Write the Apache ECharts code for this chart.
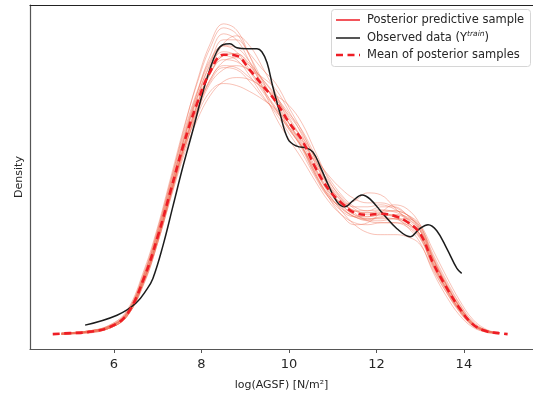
<!DOCTYPE html>
<html>
<head>
<meta charset="utf-8">
<script src="https://cdn.jsdelivr.net/npm/echarts@6/dist/echarts.min.js"></script>
<style>
html,body{margin:0;padding:0;background:#fff;}
#chart{width:533px;height:396px;}
</style>
</head>
<body>
<div id="chart"></div>
<script>
// ---- data ----
var xTicks = [6, 8, 10, 12, 14];

// common x grid of the posterior predictive samples
var sampleX = [4.8, 5.4, 5.9, 6.3, 6.7, 7.0, 7.3, 7.6, 7.9, 8.2, 8.5, 8.8, 9.1, 9.4, 9.7, 10.0, 10.3, 10.6, 10.9, 11.2, 11.5, 11.8, 12.1, 12.4, 12.7, 13.0, 13.3, 13.6, 13.9, 14.2, 14.5, 14.8];

var sample1  = [0.001,0.003,0.009,0.024,0.066,0.108,0.158,0.208,0.252,0.288,0.308,0.302,0.280,0.255,0.232,0.208,0.186,0.160,0.140,0.127,0.118,0.115,0.117,0.116,0.110,0.097,0.068,0.044,0.023,0.009,0.003,0.001];
var sample2  = [0.000,0.002,0.006,0.018,0.054,0.092,0.137,0.180,0.215,0.240,0.254,0.258,0.256,0.248,0.238,0.222,0.205,0.180,0.158,0.140,0.128,0.124,0.125,0.123,0.117,0.104,0.075,0.050,0.028,0.011,0.004,0.001];
var sample3  = [0.000,0.002,0.006,0.018,0.052,0.092,0.140,0.188,0.230,0.266,0.292,0.300,0.290,0.268,0.242,0.212,0.188,0.160,0.138,0.124,0.118,0.118,0.120,0.118,0.112,0.100,0.070,0.046,0.025,0.010,0.003,0.001];
var sample4  = [0.000,0.002,0.007,0.021,0.060,0.101,0.148,0.195,0.236,0.266,0.280,0.276,0.260,0.240,0.222,0.202,0.182,0.158,0.138,0.130,0.134,0.142,0.140,0.128,0.114,0.098,0.068,0.044,0.024,0.009,0.003,0.001];
var sample5  = [0.001,0.003,0.008,0.020,0.057,0.097,0.143,0.188,0.226,0.254,0.268,0.266,0.254,0.238,0.224,0.208,0.194,0.174,0.154,0.138,0.126,0.120,0.122,0.124,0.120,0.108,0.078,0.052,0.030,0.012,0.004,0.001];
var sample6  = [0.000,0.002,0.007,0.021,0.061,0.104,0.154,0.206,0.254,0.292,0.312,0.306,0.280,0.248,0.218,0.196,0.176,0.154,0.134,0.120,0.112,0.110,0.112,0.112,0.108,0.096,0.066,0.042,0.022,0.008,0.002,0.000];
var sample7  = [0.000,0.002,0.007,0.020,0.057,0.096,0.142,0.188,0.226,0.256,0.270,0.268,0.258,0.248,0.240,0.230,0.212,0.184,0.156,0.136,0.122,0.114,0.112,0.112,0.110,0.100,0.072,0.048,0.027,0.010,0.003,0.001];
var sample8  = [0.000,0.002,0.006,0.019,0.056,0.096,0.143,0.190,0.230,0.262,0.280,0.282,0.270,0.252,0.234,0.212,0.190,0.162,0.138,0.120,0.110,0.112,0.122,0.130,0.126,0.110,0.076,0.049,0.027,0.011,0.003,0.001];
var sample9  = [0.000,0.002,0.008,0.022,0.062,0.104,0.152,0.200,0.242,0.274,0.290,0.288,0.274,0.254,0.232,0.212,0.192,0.166,0.142,0.124,0.110,0.102,0.100,0.100,0.098,0.090,0.064,0.042,0.023,0.009,0.003,0.001];
var sample10 = [0.001,0.003,0.008,0.021,0.058,0.097,0.142,0.186,0.220,0.244,0.252,0.250,0.244,0.236,0.226,0.212,0.198,0.178,0.160,0.146,0.136,0.132,0.132,0.128,0.120,0.106,0.076,0.050,0.028,0.011,0.004,0.001];
var sample11 = [0.000,0.001,0.006,0.018,0.054,0.094,0.141,0.189,0.230,0.262,0.280,0.282,0.272,0.256,0.238,0.216,0.196,0.172,0.150,0.134,0.124,0.122,0.124,0.124,0.120,0.110,0.084,0.058,0.034,0.015,0.005,0.001];
var sample12 = [0.001,0.003,0.008,0.022,0.062,0.102,0.150,0.198,0.238,0.270,0.284,0.280,0.264,0.244,0.226,0.206,0.188,0.164,0.144,0.132,0.124,0.122,0.122,0.118,0.108,0.092,0.062,0.038,0.019,0.007,0.002,0.000];
var sample13 = [0.000,0.002,0.007,0.021,0.060,0.100,0.148,0.196,0.238,0.272,0.296,0.296,0.282,0.266,0.252,0.228,0.204,0.176,0.150,0.134,0.124,0.124,0.128,0.128,0.120,0.104,0.072,0.046,0.025,0.010,0.003,0.001];
var sample14 = [0.001,0.003,0.008,0.020,0.056,0.095,0.140,0.184,0.222,0.252,0.266,0.270,0.266,0.258,0.246,0.224,0.200,0.172,0.148,0.130,0.120,0.118,0.120,0.120,0.116,0.104,0.074,0.049,0.027,0.011,0.003,0.001];
var sample15 = [0.000,0.002,0.006,0.019,0.056,0.097,0.146,0.196,0.242,0.280,0.302,0.296,0.274,0.248,0.226,0.206,0.188,0.166,0.146,0.130,0.120,0.116,0.116,0.116,0.112,0.100,0.070,0.046,0.025,0.010,0.003,0.001];
var sample16 = [0.000,0.002,0.007,0.020,0.058,0.098,0.145,0.192,0.232,0.262,0.276,0.274,0.264,0.250,0.236,0.220,0.202,0.176,0.152,0.136,0.128,0.128,0.130,0.126,0.116,0.100,0.070,0.045,0.024,0.009,0.003,0.001];
var sample17 = [0.001,0.003,0.009,0.023,0.064,0.106,0.155,0.203,0.244,0.276,0.290,0.284,0.266,0.246,0.228,0.208,0.188,0.162,0.140,0.126,0.118,0.114,0.114,0.116,0.116,0.108,0.080,0.054,0.031,0.013,0.004,0.001];
var sample18 = [0.000,0.001,0.006,0.018,0.053,0.092,0.138,0.184,0.224,0.256,0.274,0.278,0.270,0.256,0.240,0.218,0.196,0.168,0.144,0.128,0.118,0.116,0.118,0.120,0.118,0.106,0.076,0.050,0.028,0.011,0.003,0.001];

// observed data (Y^train) KDE
var obsX = [5.34, 6.07, 6.5, 6.75, 6.89, 7.12, 7.35, 7.58, 7.81, 8.03, 8.19, 8.35, 8.49, 8.65, 8.81, 9.04, 9.27, 9.38, 9.5, 9.63, 9.79, 9.98, 10.18, 10.41, 10.55, 10.71, 10.9, 11.1, 11.28, 11.46, 11.67, 11.85, 12.15, 12.47, 12.77, 12.99, 13.18, 13.38, 13.61, 13.84, 13.95];
var obsY = [0.009, 0.019, 0.031, 0.045, 0.056, 0.089, 0.129, 0.169, 0.206, 0.243, 0.266, 0.284, 0.291, 0.292, 0.288, 0.287, 0.287, 0.284, 0.273, 0.249, 0.223, 0.196, 0.189, 0.187, 0.183, 0.169, 0.150, 0.133, 0.128, 0.134, 0.140, 0.136, 0.121, 0.106, 0.098, 0.106, 0.110, 0.104, 0.086, 0.066, 0.061];

// mean of posterior samples
var meanX = [4.6, 5.0, 5.4, 5.9, 6.3, 6.7, 7.0, 7.3, 7.6, 7.9, 8.2, 8.5, 8.8, 9.1, 9.4, 9.7, 10.0, 10.3, 10.6, 10.9, 11.2, 11.5, 11.8, 12.1, 12.4, 12.7, 13.0, 13.3, 13.6, 13.9, 14.2, 14.5, 14.8, 15.0];
var meanY = [0.000, 0.001, 0.002, 0.007, 0.020, 0.058, 0.098, 0.145, 0.192, 0.232, 0.264, 0.281, 0.280, 0.266, 0.250, 0.234, 0.213, 0.195, 0.168, 0.146, 0.132, 0.122, 0.120, 0.121, 0.119, 0.113, 0.101, 0.071, 0.047, 0.026, 0.010, 0.003, 0.001, 0.000];

var samples = [sample1, sample2, sample3, sample4, sample5, sample6, sample7, sample8, sample9,
               sample10, sample11, sample12, sample13, sample14, sample15, sample16, sample17, sample18];

function pairs(xs, ys) { return xs.map(function (x, i) { return [x, ys[i]]; }); }

var FONT = 'DejaVu Sans';
var series = [];
samples.forEach(function (s) {
  series.push({
    type: 'line', data: pairs(sampleX, s), smooth: 0.4, symbol: 'none', silent: true,
    lineStyle: { color: 'rgba(238,110,84,0.42)', width: 1 }, z: 1
  });
});
series.push({
  type: 'line', data: pairs(obsX, obsY), smooth: 0.4, symbol: 'none', silent: true,
  lineStyle: { color: '#1c1c1c', width: 1.5 }, z: 3
});
series.push({
  type: 'line', data: pairs(meanX, meanY), smooth: 0.4, symbol: 'none', silent: true,
  lineStyle: { color: '#ee1d25', width: 2.6, type: [7, 4.5] }, z: 4
});

var chart = echarts.init(document.getElementById('chart'), null, { renderer: 'canvas' });
chart.setOption({
  animation: false,
  backgroundColor: '#fff',
  grid: { left: 30, right: 0, top: 5, bottom: 45, containLabel: false },
  xAxis: [{
    type: 'value', min: 4.08, max: 15.58, position: 'bottom',
    name: 'log(AGSF) [N/m²]', nameLocation: 'middle', nameGap: 31,
    nameTextStyle: { fontFamily: FONT, fontSize: 11, color: '#262626' },
    axisLine: { show: true, onZero: false, lineStyle: { color: '#555', width: 1.2 } },
    axisTick: { show: true, length: 4, lineStyle: { color: '#555', width: 1 }, customValues: xTicks },
    axisLabel: { fontFamily: FONT, fontSize: 13, color: '#262626', margin: 9, customValues: xTicks },
    splitLine: { show: false }
  }, {
    type: 'value', min: 4.08, max: 15.58, position: 'top',
    axisLine: { show: true, onZero: false, lineStyle: { color: '#222', width: 1.2 } },
    axisTick: { show: false }, axisLabel: { show: false }, splitLine: { show: false }
  }],
  yAxis: {
    type: 'value', min: -0.015, max: 0.331,
    name: 'Density', nameLocation: 'middle', nameGap: 5, nameRotate: 90,
    nameTextStyle: { fontFamily: FONT, fontSize: 11, color: '#262626' },
    axisLine: { show: true, onZero: false, lineStyle: { color: '#555', width: 1.2 } },
    axisTick: { show: false }, axisLabel: { show: false }, splitLine: { show: false }
  },
  series: series,
  graphic: [
    { type: 'rect', shape: { x: 331.5, y: 9.5, width: 199, height: 57, r: 3 },
      style: { fill: 'rgba(255,255,255,0.85)', stroke: '#d6d6d6', lineWidth: 1 }, z: 10 },
    { type: 'line', shape: { x1: 336, y1: 20, x2: 360, y2: 20 }, style: { stroke: '#ee1d25', lineWidth: 1.5 }, z: 11 },
    { type: 'line', shape: { x1: 336, y1: 38, x2: 360, y2: 38 }, style: { stroke: '#1c1c1c', lineWidth: 1.5 }, z: 11 },
    { type: 'line', shape: { x1: 336, y1: 55, x2: 360, y2: 55 }, style: { stroke: '#ee1d25', lineWidth: 2.6, lineDash: [7, 4.5] }, z: 11 },
    { type: 'text', x: 367, y: 20, style: { text: 'Posterior predictive sample', font: '11.5px "DejaVu Sans"', fill: '#262626', verticalAlign: 'middle' }, z: 11 },
    { type: 'text', x: 367, y: 38, style: {
        text: 'Observed data (Y{sup|train})', font: '11.5px "DejaVu Sans"', fill: '#262626', verticalAlign: 'middle',
        rich: { sup: { fontSize: 7.5, fontStyle: 'italic', fontFamily: FONT, fill: '#262626', padding: [0, 0, 7, 0] } }
      }, z: 11 },
    { type: 'text', x: 367, y: 55, style: { text: 'Mean of posterior samples', font: '11.5px "DejaVu Sans"', fill: '#262626', verticalAlign: 'middle' }, z: 11 }
  ]
});
</script>
</body>
</html>
